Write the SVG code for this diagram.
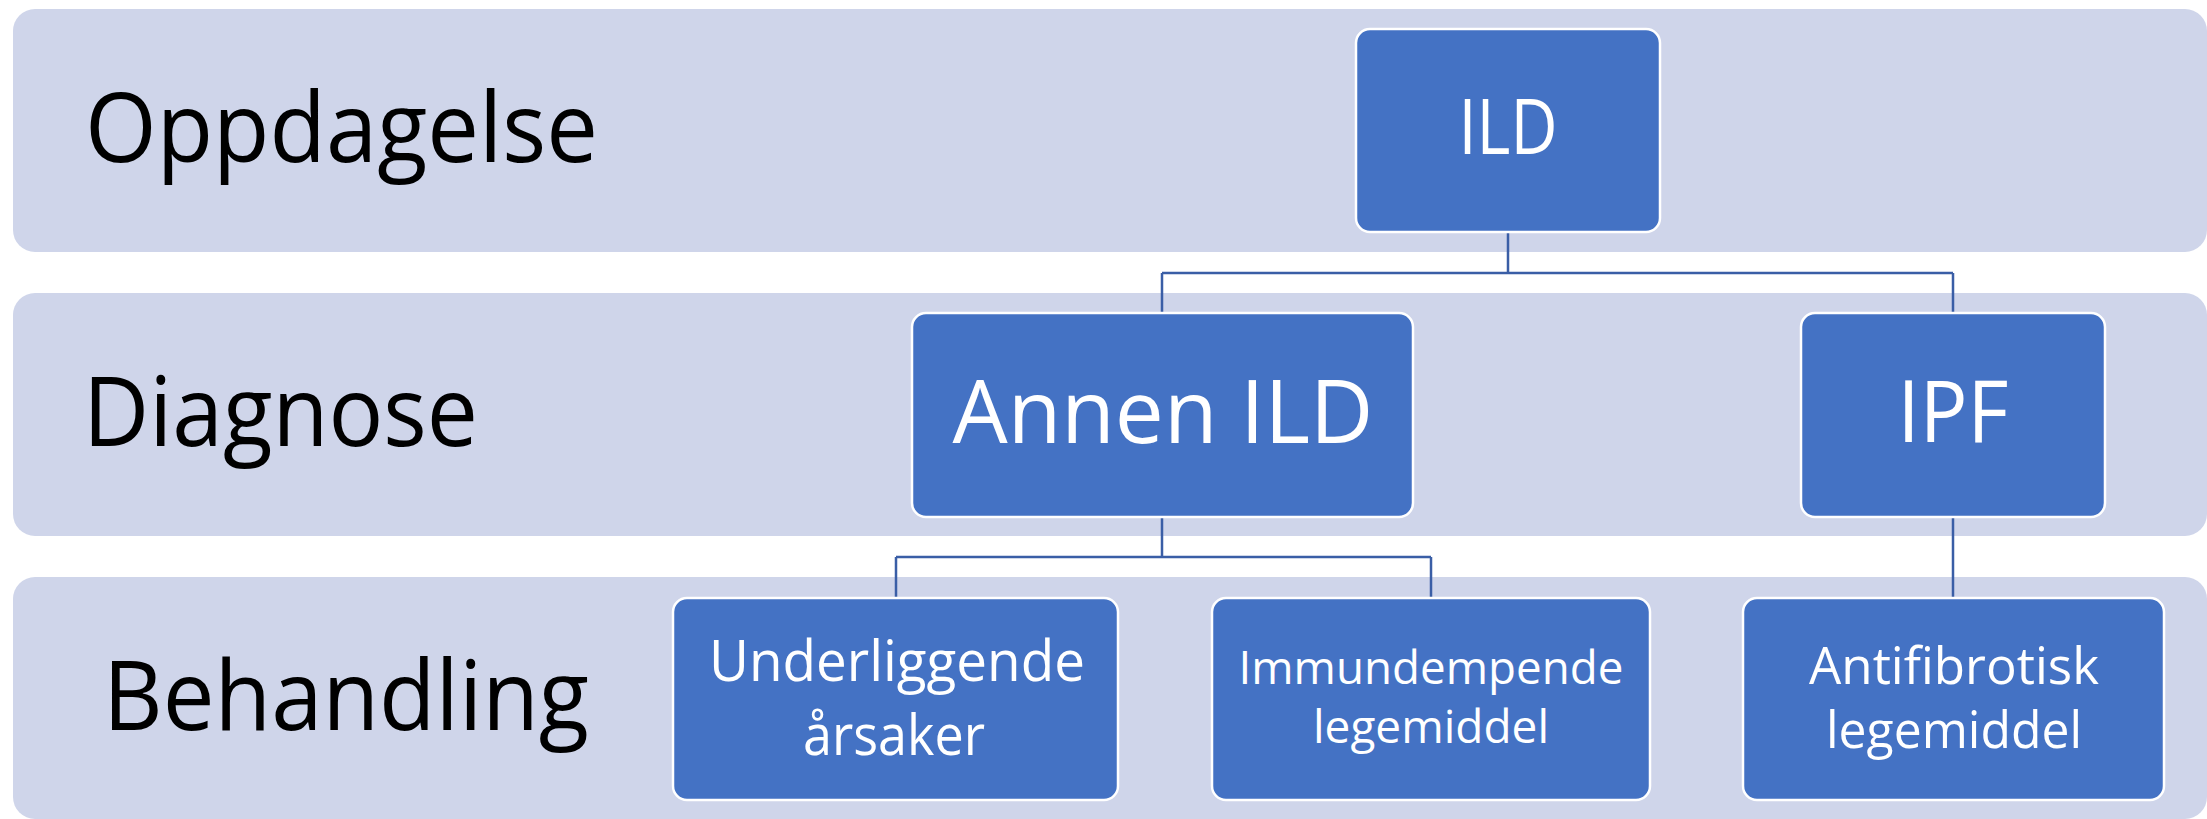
<svg xmlns="http://www.w3.org/2000/svg" width="2207" height="819" viewBox="0 0 2207 819">
<style>
.band{fill:#CFD5EA}
.node{fill:#4472C4;stroke:#FFFFFF;stroke-width:2.5}
.lane{font-family:"Open Sans","Liberation Sans",sans-serif;font-size:97px;fill:#000000}
.t{font-family:"Open Sans","Liberation Sans",sans-serif;fill:#FFFFFF;text-anchor:middle}
.conn{fill:none;stroke:#3A5EA6;stroke-width:2.5}
</style>
<rect width="2207" height="819" fill="#FFFFFF"/>
<g id="lanes">
<g id="lane-oppdagelse">
<rect class="band" x="13" y="9" width="2194" height="243" rx="22" ry="22"/>
<text class="lane" x="85" y="162" textLength="513" lengthAdjust="spacingAndGlyphs">Oppdagelse</text>
</g>
<g id="lane-diagnose">
<rect class="band" x="13" y="293" width="2194" height="243" rx="22" ry="22"/>
<text class="lane" x="83" y="446" textLength="395" lengthAdjust="spacingAndGlyphs">Diagnose</text>
</g>
<g id="lane-behandling">
<rect class="band" x="13" y="577" width="2194" height="242" rx="22" ry="22"/>
<text class="lane" x="103" y="730" textLength="486" lengthAdjust="spacingAndGlyphs">Behandling</text>
</g>
</g>
<g id="connectors">
<path class="conn" d="M1508 232 V273 M1162 273 H1953 M1162 273 V313 M1953 273 V313"/>
<path class="conn" d="M1162 517 V557 M896 557 H1431 M896 557 V598 M1431 557 V598"/>
<path class="conn" d="M1953 517 V598"/>
</g>
<g id="node-ild">
<rect class="node" x="1356" y="29" width="304" height="203" rx="14"/>
<text class="t" x="1508" y="154" font-size="76" textLength="99" lengthAdjust="spacingAndGlyphs">ILD</text>
</g>
<g id="node-annen-ild">
<rect class="node" x="912" y="313" width="501" height="204" rx="14"/>
<text class="t" x="1163" y="443" font-size="87" textLength="421" lengthAdjust="spacingAndGlyphs">Annen ILD</text>
</g>
<g id="node-ipf">
<rect class="node" x="1801" y="313" width="304" height="204" rx="14"/>
<text class="t" x="1953" y="442" font-size="86" textLength="111" lengthAdjust="spacingAndGlyphs">IPF</text>
</g>
<g id="node-underliggende">
<rect class="node" x="673" y="598" width="445" height="202" rx="14"/>
<text class="t" font-size="56"><tspan x="897" y="681" textLength="376" lengthAdjust="spacingAndGlyphs">Underliggende</tspan><tspan x="894" y="755" textLength="182" lengthAdjust="spacingAndGlyphs">årsaker</tspan></text>
</g>
<g id="node-immundempende">
<rect class="node" x="1212" y="598" width="438" height="202" rx="14"/>
<text class="t" font-size="46"><tspan x="1431" y="684" textLength="385" lengthAdjust="spacingAndGlyphs">Immundempende</tspan><tspan x="1431" y="743" textLength="236" lengthAdjust="spacingAndGlyphs">legemiddel</tspan></text>
</g>
<g id="node-antifibrotisk">
<rect class="node" x="1743" y="598" width="421" height="202" rx="14"/>
<text class="t" font-size="52"><tspan x="1954" y="684" textLength="290" lengthAdjust="spacingAndGlyphs">Antifibrotisk</tspan><tspan x="1954" y="748" textLength="256" lengthAdjust="spacingAndGlyphs">legemiddel</tspan></text>
</g>
</svg>
